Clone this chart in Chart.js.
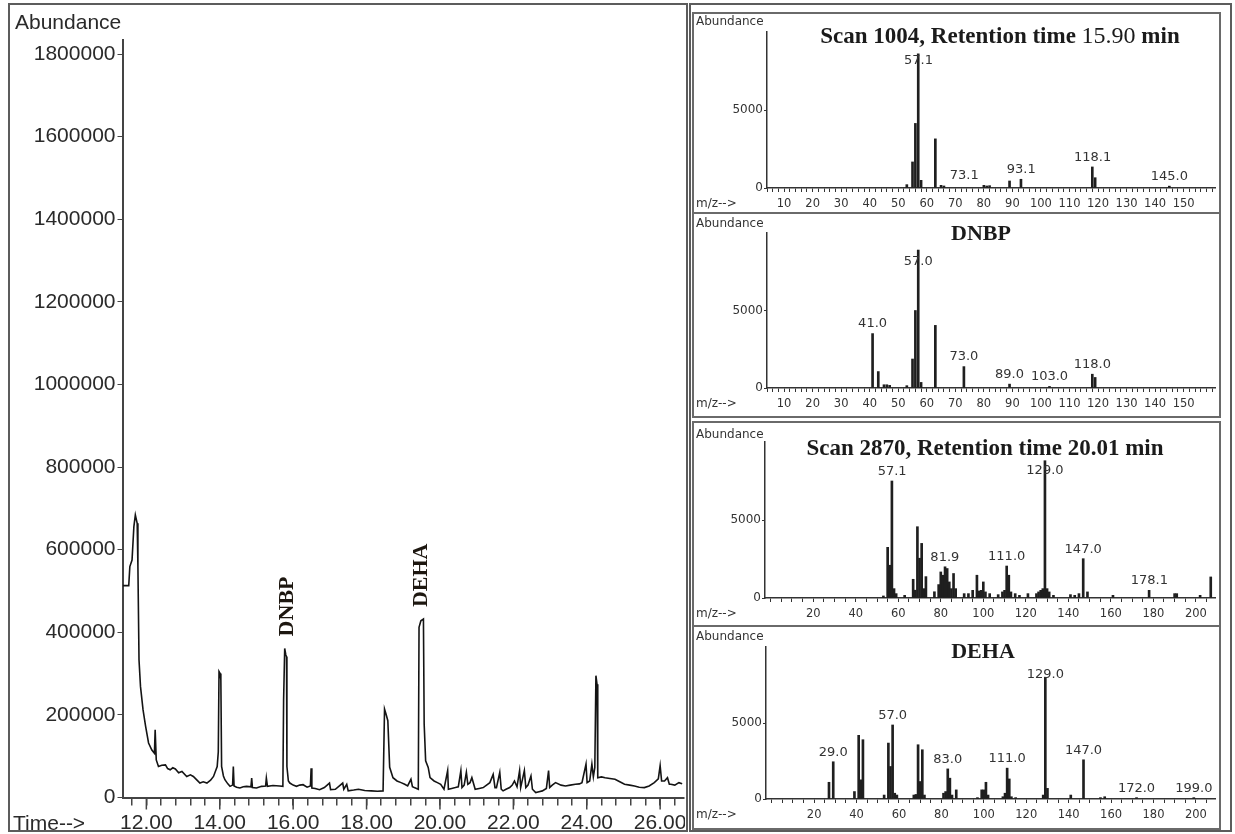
<!DOCTYPE html>
<html>
<head>
<meta charset="utf-8">
<title>GC-MS chromatogram and mass spectra</title>
<script src="https://cdn.jsdelivr.net/npm/chart.js@4.4.1/dist/chart.umd.min.js"></script>
<style>
  body { margin: 0; background: #fff; }
  #fig { position: relative; width: 1235px; height: 834px; overflow: hidden; }
  .frame { position: absolute; box-sizing: border-box; border: 2px solid #5c5c5c; }
  .panel { position: absolute; box-sizing: border-box; border: 2px solid #6a6a6a; }
  canvas { position: absolute; }
  .txt { position: absolute; white-space: nowrap; color: #2a2a2a; }
  .big { font: 21px "Liberation Sans", Arial, sans-serif; line-height: 24px; }
  .small { font: 12px "DejaVu Sans", sans-serif; line-height: 14px; color: #333; }
  .title { font: bold 23px "Liberation Serif", "Times New Roman", serif; color: #1b1b1b; transform: translate(-50%, -50%); }
  .title .reg { font-weight: normal; font-size: 24px; }
  .name { font-size: 22px; }
</style>
</head>
<body>
<div id="fig">
  <div class="frame" style="left:8px;top:3px;width:680px;height:829px"></div>
  <div class="frame" style="left:689px;top:3px;width:543px;height:829px"></div>
  <div class="panel" style="left:692px;top:12px;width:529px;height:202px"></div>
  <div class="panel" style="left:692px;top:212px;width:529px;height:206px"></div>
  <div class="panel" style="left:692px;top:421px;width:529px;height:206px"></div>
  <div class="panel" style="left:692px;top:625px;width:529px;height:205px"></div>

  <canvas id="tic" width="675" height="827" style="left:10px;top:5px"></canvas>
  <canvas id="ms1" width="527" height="198" style="left:693px;top:14px"></canvas>
  <canvas id="ms2" width="527" height="202" style="left:693px;top:214px"></canvas>
  <canvas id="ms3" width="527" height="203" style="left:693px;top:422px"></canvas>
  <canvas id="ms4" width="527" height="201" style="left:693px;top:627px"></canvas>

  <div class="txt big" style="left:15px;top:10px">Abundance</div>
  <div class="txt big" style="left:13px;top:811px">Time--&gt;</div>

  <div class="txt small" style="left:696px;top:14px">Abundance</div>
  <div class="txt small" style="left:696px;top:196px">m/z--&gt;</div>
  <div class="txt small" style="left:696px;top:216px">Abundance</div>
  <div class="txt small" style="left:696px;top:396px">m/z--&gt;</div>
  <div class="txt small" style="left:696px;top:427px">Abundance</div>
  <div class="txt small" style="left:696px;top:606px">m/z--&gt;</div>
  <div class="txt small" style="left:696px;top:629px">Abundance</div>
  <div class="txt small" style="left:696px;top:807px">m/z--&gt;</div>

  <div class="txt title" style="left:1000px;top:35px">Scan 1004, Retention time <span class="reg">15.90</span> min</div>
  <div class="txt title name" style="left:981px;top:233px">DNBP</div>
  <div class="txt title" style="left:985px;top:448px">Scan 2870, Retention time 20.01 min</div>
  <div class="txt title name" style="left:983px;top:651px">DEHA</div>
</div>

<script>
// Total ion chromatogram (retention time in min, abundance)
const rtTimes = [
  11.36, 11.52, 11.55, 11.61, 11.66, 11.70, 11.75, 11.77, 11.80, 11.84, 11.91, 11.98,
  12.06, 12.15, 12.22, 12.24, 12.27, 12.33, 12.42, 12.52, 12.58, 12.65, 12.72, 12.79,
  12.88, 12.97, 13.10, 13.20, 13.28, 13.38, 13.46, 13.55, 13.65, 13.75, 13.83, 13.93,
  13.96, 13.98, 14.01, 14.03, 14.05, 14.10, 14.14, 14.22, 14.28, 14.35, 14.37, 14.39,
  14.46, 14.55, 14.64, 14.73, 14.85, 14.87, 14.89, 15.00, 15.14, 15.25, 15.27, 15.30,
  15.45, 15.63, 15.72, 15.74, 15.77, 15.80, 15.82, 15.83, 15.87, 15.91, 16.00, 16.09,
  16.18, 16.27, 16.38, 16.47, 16.49, 16.51, 16.60, 16.72, 16.85, 16.99, 17.02, 17.15,
  17.35, 17.38, 17.46, 17.50, 17.65, 17.78, 17.95, 18.13, 18.30, 18.45, 18.49, 18.53,
  18.58, 18.63, 18.72, 18.83, 18.94, 19.04, 19.12, 19.21, 19.25, 19.30, 19.41, 19.43,
  19.48, 19.55, 19.57, 19.61, 19.68, 19.73, 19.84, 19.93, 20.02, 20.11, 20.21, 20.23,
  20.32, 20.42, 20.50, 20.57, 20.60, 20.66, 20.72, 20.76, 20.82, 20.87, 20.96, 21.07,
  21.18, 21.27, 21.36, 21.45, 21.50, 21.54, 21.63, 21.67, 21.72, 21.80, 21.90, 21.97,
  22.03, 22.10, 22.17, 22.20, 22.30, 22.34, 22.40, 22.48, 22.52, 22.61, 22.70, 22.79,
  22.90, 22.96, 22.99, 23.06, 23.15, 23.30, 23.42, 23.55, 23.69, 23.80, 23.87, 23.98,
  24.01, 24.08, 24.14, 24.18, 24.22, 24.25, 24.28, 24.30, 24.40, 24.50, 24.63, 24.77,
  24.90, 25.03, 25.17, 25.30, 25.43, 25.57, 25.70, 25.84, 25.95, 26.00, 26.04, 26.12,
  26.20, 26.25, 26.29, 26.40, 26.51, 26.60
];
const rtAbundance = [
  513000, 513000, 559000, 575000, 656000, 684000, 664000, 559000, 333000, 269000, 212000, 172000,
  132000, 115000, 107000, 164000, 91000, 75000, 78000, 79000, 70000, 67000, 72000, 69000,
  60000, 63000, 51000, 55000, 51000, 42000, 35000, 38000, 35000, 42000, 51000, 75000,
  110000, 305000, 300000, 285000, 75000, 52000, 43000, 33000, 27000, 30000, 75000, 28000,
  25000, 23000, 26000, 27000, 26000, 47000, 24000, 23000, 27000, 28000, 47000, 27000,
  29000, 28000, 27000, 236000, 361000, 345000, 341000, 75000, 40000, 35000, 30000, 27000,
  30000, 31000, 25000, 28000, 71000, 23000, 22000, 19000, 24000, 35000, 19000, 20000,
  35000, 20000, 32000, 16000, 18000, 20000, 17000, 16000, 15000, 16000, 214000, 202000,
  186000, 73000, 48000, 40000, 36000, 32000, 28000, 44000, 26000, 24000, 20000, 412000,
  428000, 432000, 178000, 89000, 73000, 48000, 40000, 36000, 32000, 20000, 65000, 20000,
  22000, 24000, 26000, 65000, 24000, 30000, 61000, 32000, 36000, 48000, 20000, 22000,
  24000, 30000, 36000, 56000, 24000, 24000, 61000, 20000, 16000, 20000, 24000, 30000,
  40000, 26000, 65000, 24000, 65000, 24000, 30000, 52000, 20000, 12000, 14000, 16000,
  22000, 65000, 24000, 30000, 36000, 30000, 28000, 30000, 32000, 33000, 36000, 81000,
  36000, 40000, 81000, 50000, 73000, 295000, 274000, 48000, 50000, 48000, 46000, 44000,
  38000, 32000, 30000, 28000, 25000, 24000, 28000, 36000, 45000, 77000, 40000, 40000,
  48000, 32000, 32000, 30000, 36000, 33000
];
const rtTickValues = [12, 14, 16, 18, 20, 22, 24, 26];
const rtTickLabels = ['12.00', '14.00', '16.00', '18.00', '20.00', '22.00', '24.00', '26.00'];
const abundanceTicks = [0, 200000, 400000, 600000, 800000, 1000000, 1200000, 1400000, 1600000, 1800000];
const tagNames = ['DNBP', 'DEHA'];
const tagTimes = [15.83, 19.5];

// Mass spectra (m/z, abundance)
const ms1Mz = [53, 55, 56, 57, 58, 63, 65, 66, 80, 81, 82, 89, 93, 118, 119, 145];
const ms1Ab = [215, 1670, 4140, 8600, 490, 3150, 170, 130, 170, 130, 150, 450, 560, 1350, 660, 120];
const ms1Labels = ['57.1', '73.1', '93.1', '118.1', '145.0'];

const ms2Mz = [41, 43, 45, 46, 47, 53, 55, 56, 57, 58, 63, 73, 89, 103, 118, 119];
const ms2Ab = [3510, 1060, 210, 210, 170, 150, 1870, 5000, 8900, 360, 4040, 1380, 250, 100, 890, 680];
const ms2Labels = ['41.0', '57.0', '73.0', '89.0', '103.0', '118.0'];

const ms3Mz = [53, 55, 56, 57, 58, 59, 63, 67, 68, 69, 70, 71, 72, 73, 77, 79, 80, 81, 82, 83, 84, 85, 86, 87,
  91, 93, 95, 97, 98, 99, 100, 101, 103, 107, 109, 110, 111, 112, 113, 115, 117, 121, 125, 126, 127, 128,
  129, 130, 131, 133, 141, 143, 145, 147, 149, 161, 178, 190, 191, 202, 207];
const ms3Ab = [130, 3250, 2100, 7500, 600, 280, 170, 1200, 500, 4570, 2550, 3500, 600, 1370, 400, 860, 1670, 1460, 2000, 1890, 1030, 600, 1570, 600,
  280, 280, 490, 1460, 450, 490, 1030, 390, 280, 215, 390, 490, 2050, 1460, 390, 280, 170, 280, 280, 390, 490, 600,
  8800, 600, 390, 170, 215, 170, 280, 2520, 390, 170, 490, 280, 280, 170, 1350];
const ms3Labels = ['57.1', '81.9', '111.0', '129.0', '147.0', '178.1'];

const ms4Mz = [27, 29, 39, 41, 42, 43, 53, 55, 56, 57, 58, 59, 67, 68, 69, 70, 71, 72, 81, 82, 83, 84, 85, 87,
  97, 99, 100, 101, 102, 109, 110, 111, 112, 113, 115, 128, 129, 130, 141, 147, 155, 157, 172, 199];
const ms4Ab = [1100, 2450, 490, 4190, 1260, 3900, 260, 3680, 2140, 4870, 380, 260, 260, 300, 3570, 1150, 3240, 260, 380, 490, 1980, 1370, 260, 600,
  90, 600, 600, 1100, 260, 150, 380, 2030, 1320, 150, 90, 260, 8000, 700, 260, 2580, 90, 150, 90, 90];
const ms4Labels = ['29.0', '57.0', '83.0', '111.0', '129.0', '147.0', '172.0', '199.0'];

const mzTicksNarrow = [10, 20, 30, 40, 50, 60, 70, 80, 90, 100, 110, 120, 130, 140, 150];
const mzTicksWide = [20, 40, 60, 80, 100, 120, 140, 160, 180, 200];

function tickRange(from, to, step) {
  const out = [];
  for (let v = from; v <= to + 1e-9; v += step) out.push(Math.round(v * 100) / 100);
  return out;
}

// labels above the main ions, placed from the bar heights
const peakLabelPlugin = {
  id: 'peakLabels',
  afterDatasetsDraw(chart) {
    const { ctx, scales: { x, y } } = chart;
    const ds = chart.data.datasets[0];
    ctx.save();
    ctx.font = '13px "DejaVu Sans"';
    ctx.fillStyle = '#333';
    ctx.textAlign = 'center';
    ctx.textBaseline = 'bottom';
    ds.peakLabels.forEach(text => {
      const m = parseFloat(text);
      const bar = ds.data.reduce((a, b) => Math.abs(b.x - m) < Math.abs(a.x - m) ? b : a);
      const yy = Math.max(y.getPixelForValue(bar.y) - 3, y.getPixelForValue(7750));
      ctx.fillText(text, x.getPixelForValue(m), yy);
    });
    ctx.restore();
  }
};

// vertical compound names over their peaks
const compoundTagPlugin = {
  id: 'compoundTags',
  afterDatasetsDraw(chart) {
    const { ctx, scales: { x, y } } = chart;
    tagNames.forEach((name, k) => {
      const near = rtTimes.map((t, i) => Math.abs(t - tagTimes[k]) < 0.1 ? rtAbundance[i] : 0);
      const top = y.getPixelForValue(Math.max(...near));
      ctx.save();
      ctx.translate(x.getPixelForValue(tagTimes[k]), top - 12);
      ctx.rotate(-Math.PI / 2);
      ctx.font = 'bold 22px "Liberation Serif"';
      ctx.fillStyle = '#1d1710';
      ctx.textAlign = 'left';
      ctx.textBaseline = 'middle';
      ctx.fillText(name, 0, 0);
      ctx.restore();
    });
  }
};

// longer marks at the labelled times
const majorTickPlugin = {
  id: 'majorTicks',
  afterDraw(chart) {
    const { ctx, scales: { x } } = chart;
    ctx.save();
    ctx.strokeStyle = '#444';
    ctx.lineWidth = 1.5;
    rtTickValues.forEach(v => {
      const px = x.getPixelForValue(v);
      ctx.beginPath();
      ctx.moveTo(px, x.top);
      ctx.lineTo(px, x.top + 12);
      ctx.stroke();
    });
    ctx.restore();
  }
};

const ticChart = new Chart(document.getElementById('tic'), {
  type: 'line',
  data: {
    datasets: [{
      data: rtTimes.map((t, i) => ({ x: t, y: rtAbundance[i] })),
      borderColor: '#141414',
      borderWidth: 1.6,
      pointRadius: 0,
      tension: 0
    }]
  },
  options: {
    responsive: false,
    animation: false,
    layout: { padding: { top: 35, right: 1 } },
    plugins: { legend: { display: false }, tooltip: { enabled: false } },
    scales: {
      x: {
        type: 'linear',
        min: 11.35,
        max: 26.65,
        grid: { drawOnChartArea: false, tickLength: 8, color: '#444', lineWidth: 1.5 },
        border: { color: '#444', width: 2 },
        afterBuildTicks: s => { s.ticks = tickRange(11.6, 26.4, 0.4).map(v => ({ value: v })); },
        afterFit: s => { s.height = 34.5; },
        ticks: {
          autoSkip: false,
          maxRotation: 0,
          padding: 5,
          color: '#2a2a2a',
          font: { family: 'Liberation Sans', size: 21 },
          callback: v => {
            const k = rtTickValues.indexOf(v);
            return k >= 0 ? rtTickLabels[k] : '';
          }
        }
      },
      y: {
        min: 0,
        max: 1834000,
        grid: { drawOnChartArea: false, tickLength: 5, color: '#444' },
        border: { color: '#444', width: 2 },
        afterBuildTicks: s => { s.ticks = abundanceTicks.map(v => ({ value: v })); },
        afterFit: s => { s.width = 112.5; },
        ticks: {
          padding: 2,
          color: '#2a2a2a',
          font: { family: 'Liberation Sans', size: 21 },
          callback: v => String(v)
        }
      }
    }
  },
  plugins: [majorTickPlugin, compoundTagPlugin]
});

function drawSpectrum(id, mz, abundance, peakLabels, range, tickStep, labelTicks, axisWidth, topPad, axisHeight) {
  const ticks = tickRange(Math.ceil(range[0] / tickStep) * tickStep, range[1], tickStep);
  return new Chart(document.getElementById(id), {
    type: 'bar',
    data: {
      datasets: [{
        data: mz.map((m, i) => ({ x: m, y: abundance[i] })),
        backgroundColor: '#1f1f1f',
        barThickness: 2,
        peakLabels: peakLabels
      }]
    },
    options: {
      responsive: false,
      animation: false,
      layout: { padding: { top: topPad, right: 5 } },
      plugins: { legend: { display: false }, tooltip: { enabled: false } },
      scales: {
        x: {
          type: 'linear',
          min: range[0],
          max: range[1],
          offset: false,
          grid: { drawOnChartArea: false, tickLength: 4, color: '#333', offset: false },
          border: { color: '#333', width: 1.5 },
          afterBuildTicks: s => { s.ticks = ticks.map(v => ({ value: v })); },
          afterFit: s => { s.height = axisHeight; },
          ticks: {
            autoSkip: false,
            maxRotation: 0,
            padding: 5,
            color: '#333',
            font: { family: 'DejaVu Sans', size: 11.5 },
            callback: v => labelTicks.includes(v) ? String(v) : ''
          }
        },
        y: {
          min: 0,
          max: 10000,
          grid: { drawOnChartArea: false, tickLength: 3, color: '#333' },
          border: { color: '#333', width: 1.5 },
          afterBuildTicks: s => { s.ticks = [{ value: 0 }, { value: 5000 }]; },
          afterFit: s => { s.width = axisWidth; },
          ticks: {
            padding: 1,
            color: '#333',
            font: { family: 'DejaVu Sans', size: 12 },
            callback: v => String(v)
          }
        }
      }
    },
    plugins: [peakLabelPlugin]
  });
}

drawSpectrum('ms1', ms1Mz, ms1Ab, ms1Labels, [4, 161], 2, mzTicksNarrow, 74, 18, 24);
drawSpectrum('ms2', ms2Mz, ms2Ab, ms2Labels, [4, 161], 2, mzTicksNarrow, 74, 19, 28);
drawSpectrum('ms3', ms3Mz, ms3Ab, ms3Labels, [-2.7, 209], 5, mzTicksWide, 72, 20, 27);
drawSpectrum('ms4', ms4Mz, ms4Ab, ms4Labels, [-2.7, 209], 5, mzTicksWide, 73, 20, 29);
</script>
</body>
</html>
